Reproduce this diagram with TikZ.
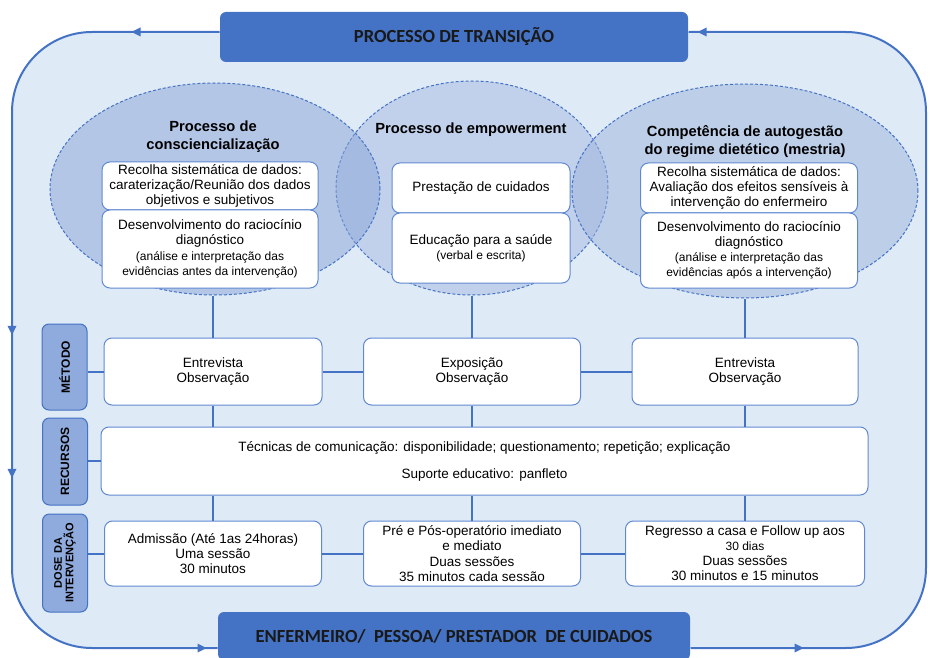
\documentclass[tikz,border=0pt]{standalone}
\usepackage{fontspec}
\setmainfont{Liberation Sans}
\newfontfamily\bannerfont{Carlito}
\usepackage{tikz}
\usetikzlibrary{positioning,shapes.geometric,arrows.meta,decorations.markings}
\definecolor{mainBlue}{HTML}{4472C4}
\definecolor{paleBlue}{HTML}{DEEAF6}
\definecolor{labelBlue}{HTML}{8FAADC}
\definecolor{lineBlue}{HTML}{6189D2}
\definecolor{bubbleA}{HTML}{8AA4D8}
\definecolor{bubbleB}{HTML}{A6BAE2}
\definecolor{bubbleC}{HTML}{9EB4DE}
\newcommand*{\smalltxt}{\fontsize{12}{13.5}\selectfont}
\newcommand*{\flowtip}{\fill[mainBlue, sharp corners] (4pt,0pt) -- (-5pt,4.5pt) -- (-5pt,-4.5pt) -- cycle;}

\begin{document}
\begin{tikzpicture}[x=1pt, y=-1pt, line width=1pt,
    box/.style={draw=lineBlue, fill=white, rounded corners=8pt, align=center, inner sep=1pt, font=\fontsize{13.5}{15}\selectfont},
    banner/.style={fill=mainBlue, rounded corners=6pt, text=black!90, font=\bannerfont\bfseries\fontsize{18.5}{20}\selectfont},
    sideLabel/.style={draw=mainBlue, fill=labelBlue, rounded corners=7pt, rotate=90, align=center, minimum height=45pt, inner sep=1pt, font=\bfseries\fontsize{12}{12.5}\selectfont},
    bubble/.style={ellipse, draw=mainBlue, dash pattern=on 3pt off 2pt, fill opacity=0.5, inner sep=0pt},
    bubbleTitle/.style={align=center, font=\bfseries\fontsize{14.7}{18}\selectfont},
    link/.style={draw=mainBlue, line width=2pt},
    cycleLine/.style={draw=mainBlue, line width=2pt, rounded corners=80pt, postaction={decorate}}
]
    \useasboundingbox (0,0) rectangle (930,658);

    \coordinate (nw) at (12,32);
    \coordinate (se) at (926,648);
    \coordinate (sw) at (nw |- se);
    \coordinate (ne) at (se |- nw);
    \fill[paleBlue, rounded corners=80pt] (nw) rectangle (se);

    \node[banner, minimum width=468pt, minimum height=50pt] (transition) at (454,37) {PROCESSO DE TRANSIÇÃO};
    \node[banner, minimum width=472pt, minimum height=48pt] (carers) at (454,636) {ENFERMEIRO/\ \ PESSOA/ PRESTADOR\ \ DE CUIDADOS};

    \draw[cycleLine, decoration={markings,
        mark=at position 84pt with {\flowtip},
        mark=at position 472pt with {\flowtip},
        mark=at position 615pt with {\flowtip},
        mark=at position -15pt with {\flowtip}}]
        (transition.west |- nw) -- (nw) -- (sw) -- (carers.west |- sw);
    \draw[cycleLine, decoration={markings,
        mark=at position 109pt with {\flowtip},
        mark=at position -13pt with {\flowtip}}]
        (carers.east |- se) -- (se) -- (ne) -- (transition.east |- ne);

    % the three processes
    \node[bubble, fill=bubbleB, minimum width=272pt, minimum height=214pt] (empower) at (472,188) {};
    \node[bubble, fill=bubbleA, minimum width=330pt, minimum height=212pt] (consc) at (215,189) {};
    \node[bubble, fill=bubbleC, minimum width=346pt, minimum height=214pt] (mastery) at (745,191) {};

    \node[bubbleTitle] (conscTitle) at (213,137) {Processo de\\consciencialização};
    \node[bubbleTitle] (empowerTitle) at (471,130) {Processo de empowerment};
    \node[bubbleTitle] (masteryTitle) at (745,142) {Competência de autogestão\\do regime dietético (mestria)};

    \node[box, minimum width=216pt, minimum height=48pt] (conscA) at (210,186) {Recolha sistemática de dados:\\caraterização/Reunião dos dados\\objetivos e subjetivos};
    \node[box, minimum width=216pt, minimum height=78pt] (conscB) at (210,249) {Desenvolvimento do raciocínio\\diagnóstico\\[1pt]{\smalltxt(análise e interpretação das}\\{\smalltxt evidências antes da intervenção)}};
    \node[box, minimum width=178pt, minimum height=50pt] (empowerA) at (481,188) {Prestação de cuidados};
    \node[box, minimum width=178pt, minimum height=70pt] (empowerB) at (481,248) {Educação para a saúde\\{\smalltxt(verbal e escrita)}};
    \node[box, minimum width=217pt, minimum height=50pt] (masteryA) at (749,188) {Recolha sistemática de dados:\\Avaliação dos efeitos sensíveis à\\intervenção do enfermeiro};
    \node[box, minimum width=217pt, minimum height=75pt] (masteryB) at (749,250.5) {Desenvolvimento do raciocínio\\diagnóstico\\{\smalltxt(análise e interpretação das}\\{\smalltxt evidências após a intervenção)}};

    % rows
    \node[sideLabel, minimum width=86pt] (method) at (64.5,367) {MÉTODO};
    \node[sideLabel, minimum width=87pt] (resources) at (65,461.5) {RECURSOS};
    \node[sideLabel, minimum width=98pt, font=\bfseries\fontsize{11}{11.5}\selectfont] (dose) at (65,563) {DOSE DA\\INTERVENÇÃO};

    \node[box, minimum width=218pt, minimum height=67pt] (methodA) at (213,371.5) {Entrevista\\Observação};
    \node[box, minimum width=217pt, minimum height=67pt] (methodB) at (472,371.5) {Exposição\\Observação};
    \node[box, minimum width=226pt, minimum height=67pt] (methodC) at (745,371.5) {Entrevista\\Observação};

    \node[box, minimum width=767pt, minimum height=68pt] (resourcesAll) at (484.5,461) {Técnicas de comunicação: disponibilidade; questionamento; repetição; explicação\\[12pt]Suporte educativo: panfleto};

    \node[box, minimum width=217pt, minimum height=65pt] (doseA) at (213,553.5) {Admissão (Até 1as 24horas)\\Uma sessão\\30 minutos};
    \node[box, minimum width=217pt, minimum height=65pt, font=\fontsize{13.5}{15.5}\selectfont] (doseB) at (472,553.5) {Pré e Pós-operatório imediato\\e mediato\\Duas sessões\\35 minutos cada sessão};
    \node[box, minimum width=239pt, minimum height=65pt] (doseC) at (745,553.5) {Regresso a casa e Follow up aos\\{\smalltxt 30 dias}\\Duas sessões\\30 minutos e 15 minutos};

    % connectors
    \draw[link] (methodA.north |- consc.south) -- (methodA.north);
    \draw[link] (empower.south) -- (methodB.north);
    \draw[link] (mastery.south) -- (methodC.north);
    \draw[link] (methodA.south) -- (methodA.south |- resourcesAll.north);
    \draw[link] (methodB.south) -- (methodB.south |- resourcesAll.north);
    \draw[link] (methodC.south) -- (methodC.south |- resourcesAll.north);
    \draw[link] (doseA.north |- resourcesAll.south) -- (doseA.north);
    \draw[link] (doseB.north |- resourcesAll.south) -- (doseB.north);
    \draw[link] (doseC.north |- resourcesAll.south) -- (doseC.north);

    \draw[link] (methodA.west -| method.south) -- (methodA.west);
    \draw[link] (methodA.east) -- (methodB.west);
    \draw[link] (methodB.east) -- (methodC.west);
    \draw[link] (resourcesAll.west -| resources.south) -- (resourcesAll.west);
    \draw[link] (doseA.west -| dose.south) -- (doseA.west);
    \draw[link] (doseA.east) -- (doseB.west);
    \draw[link] (doseB.east) -- (doseC.west);
\end{tikzpicture}
\end{document}
